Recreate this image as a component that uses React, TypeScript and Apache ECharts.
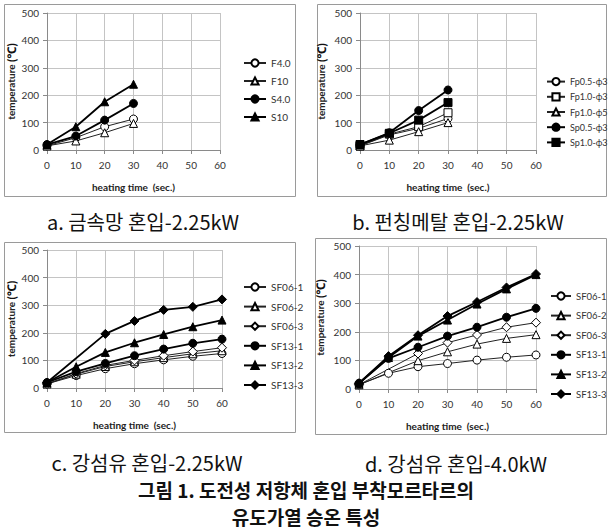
import React, { useEffect, useRef } from "react";
import * as echarts from "echarts";

const TIME_SHORT = [0, 10, 20, 30];
const TIME_LONG = [0, 10, 20, 30, 40, 50, 60];
const X_TICKS = [0, 10, 20, 30, 40, 50, 60];
const Y_TICKS = [0, 100, 200, 300, 400, 500];

// a. 금속망 혼입-2.25kW
const A_NAMES = ["F4.0", "F10", "S4.0", "S10"];
const A_F40 = [15, 45, 85, 113];
const A_F10 = [15, 33, 63, 97];
const A_S40 = [20, 51, 109, 170];
const A_S10 = [20, 85, 176, 240];

// b. 펀칭메탈 혼입-2.25kW
const B_NAMES = ["Fp0.5-ϕ3", "Fp1.0-ϕ3", "Fp1.0-ϕ5", "Sp0.5-ϕ3", "Sp1.0-ϕ3"];
const B_FP05_3 = [15, 55, 79, 115];
const B_FP10_3 = [15, 58, 85, 136];
const B_FP10_5 = [15, 36, 67, 100];
const B_SP05_3 = [20, 63, 144, 219];
const B_SP10_3 = [20, 61, 109, 173];

// c. 강섬유 혼입-2.25kW
const C_NAMES = ["SF06-1", "SF06-2", "SF06-3", "SF13-1", "SF13-2", "SF13-3"];
const C_SF06_1 = [15, 45, 70, 88, 102, 115, 125];
const C_SF06_2 = [15, 50, 78, 95, 110, 124, 135];
const C_SF06_3 = [15, 52, 82, 100, 117, 132, 146];
const C_SF13_1 = [20, 59, 89, 117, 141, 162, 177];
const C_SF13_2 = [20, 77, 129, 164, 194, 222, 246];
const C_SF13_3 = [20, null, 196, 243, 283, 294, 321];

// d. 강섬유 혼입-4.0kW
const D_NAMES = C_NAMES;
const D_SF06_1 = [15, 55, 78, 89, 101, 111, 119];
const D_SF06_2 = [15, null, 99, 130, 157, 177, 190];
const D_SF06_3 = [15, null, 124, 162, 189, 216, 232];
const D_SF13_1 = [20, 107, 146, 185, 216, 251, 282];
const D_SF13_2 = [20, 110, 185, 241, 297, 350, 400];
const D_SF13_3 = [20, 115, 188, 255, 304, 355, 402];

const CAPTIONS = [
  "a. 금속망 혼입-2.25kW",
  "b. 펀칭메탈 혼입-2.25kW",
  "c. 강섬유 혼입-2.25kW",
  "d. 강섬유 혼입-4.0kW",
];
const TITLE_LINES = ["그림 1. 도전성 저항체 혼입 부착모르타르의", "유도가열 승온 특성"];
const X_NAME = "heating time  (sec.)";
const Y_NAME = "temperature {u|(℃)}";

const LATIN = "Lato, 'Open Sans', 'Noto Sans', sans-serif";
const KR = "'Noto Sans CJK KR', 'Noto Sans', sans-serif";

type Sty = { symbol: string; filled: boolean; size: number };
const OPEN_CIRCLE: Sty = { symbol: "circle", filled: false, size: 8 };
const OPEN_TRI: Sty = { symbol: "triangle", filled: false, size: 8 };
const OPEN_RECT: Sty = { symbol: "rect", filled: false, size: 8 };
const OPEN_DIAM: Sty = { symbol: "diamond", filled: false, size: 9 };
const FULL_CIRCLE: Sty = { symbol: "circle", filled: true, size: 8 };
const FULL_TRI: Sty = { symbol: "triangle", filled: true, size: 8 };
const FULL_RECT: Sty = { symbol: "rect", filled: true, size: 8 };
const FULL_DIAM: Sty = { symbol: "diamond", filled: true, size: 9 };

function pairs(xs: number[], ys: (number | null)[]) {
  const out: number[][] = [];
  ys.forEach((y, i) => {
    if (y !== null) out.push([xs[i], y]);
  });
  return out;
}

function mkSeries(name: string, xs: number[], ys: (number | null)[], s: Sty, idx: number) {
  return {
    type: "line",
    name,
    xAxisIndex: idx,
    yAxisIndex: idx,
    data: pairs(xs, ys),
    symbol: s.symbol,
    symbolSize: s.size,
    showAllSymbol: true,
    connectNulls: true,
    lineStyle: { color: s.filled ? "#000" : "#222", width: s.filled ? 1.8 : 1 },
    itemStyle: {
      color: s.filled ? "#000" : "#fff",
      borderColor: "#000",
      borderWidth: 1,
    },
    emphasis: { disabled: true },
  };
}

const GRIDS = [
  { left: 47, top: 13, width: 173, height: 137 },
  { left: 360, top: 13, width: 176, height: 137 },
  { left: 47, top: 250, width: 175, height: 138 },
  { left: 359, top: 246, width: 177, height: 143 },
];

function xAxis(i: number) {
  return {
    type: "value",
    gridIndex: i,
    min: X_TICKS[0],
    max: X_TICKS[X_TICKS.length - 1],
    interval: 10,
    axisLine: { show: true, lineStyle: { color: "#8a8a8a" } },
    axisTick: { show: true, length: 4, lineStyle: { color: "#8a8a8a" } },
    axisLabel: { fontSize: 10, color: "#333", margin: 10, fontFamily: LATIN },
    splitLine: { show: true, lineStyle: { color: "#c4c4c4" } },
    name: X_NAME,
    nameLocation: "middle",
    nameGap: 32,
    nameTextStyle: { fontWeight: "bold", fontSize: 10, color: "#222", fontFamily: LATIN },
  };
}

function yAxis(i: number, gap: number) {
  return {
    type: "value",
    gridIndex: i,
    min: Y_TICKS[0],
    max: Y_TICKS[Y_TICKS.length - 1],
    interval: 100,
    axisLine: { show: true, lineStyle: { color: "#8a8a8a" } },
    axisTick: { show: true, length: 4, lineStyle: { color: "#8a8a8a" } },
    axisLabel: { fontSize: 10, color: "#333", margin: 8, fontFamily: LATIN },
    splitLine: { show: true, lineStyle: { color: "#c4c4c4" } },
    name: Y_NAME,
    nameLocation: "middle",
    nameGap: gap,
    nameRotate: 90,
    nameTextStyle: {
      fontWeight: "bold",
      fontSize: 10,
      color: "#222",
      fontFamily: LATIN,
      rich: { u: { fontSize: 12, fontWeight: "bold", color: "#111", fontFamily: LATIN } },
    },
  };
}

function legend(names: string[], left: number, top: number, gap: number, size: number, iw: number) {
  return {
    orient: "vertical",
    left,
    top,
    padding: 0,
    itemWidth: iw,
    itemHeight: 9,
    itemGap: gap,
    selectedMode: false,
    data: names,
    textStyle: { fontSize: size, color: "#333", fontFamily: LATIN },
  };
}

function frame(x: number, y: number, w: number, h: number) {
  return {
    type: "rect",
    shape: { x, y, width: w, height: h },
    style: { fill: "none", stroke: "#9a9a9a", lineWidth: 1 },
    silent: true,
  };
}

function caption(text: string, x: number, y: number, size: number, bold: boolean) {
  return {
    type: "text",
    x,
    y,
    style: {
      text,
      fontSize: size,
      fontWeight: bold ? "bold" : "normal",
      fontFamily: KR,
      fill: "#111",
      align: "center",
      verticalAlign: "middle",
    },
    silent: true,
  };
}

export default function App() {
  const ref = useRef<HTMLDivElement>(null);
  useEffect(() => {
    document.body.style.margin = "0";
    if (!ref.current) return;
    const chart = echarts.init(ref.current, undefined, { renderer: "svg" });
    const series = [
      mkSeries(A_NAMES[0], TIME_SHORT, A_F40, OPEN_CIRCLE, 0),
      mkSeries(A_NAMES[1], TIME_SHORT, A_F10, OPEN_TRI, 0),
      mkSeries(A_NAMES[2], TIME_SHORT, A_S40, FULL_CIRCLE, 0),
      mkSeries(A_NAMES[3], TIME_SHORT, A_S10, FULL_TRI, 0),
      mkSeries(B_NAMES[0], TIME_SHORT, B_FP05_3, OPEN_CIRCLE, 1),
      mkSeries(B_NAMES[1], TIME_SHORT, B_FP10_3, OPEN_RECT, 1),
      mkSeries(B_NAMES[2], TIME_SHORT, B_FP10_5, OPEN_TRI, 1),
      mkSeries(B_NAMES[3], TIME_SHORT, B_SP05_3, FULL_CIRCLE, 1),
      mkSeries(B_NAMES[4], TIME_SHORT, B_SP10_3, FULL_RECT, 1),
      mkSeries(C_NAMES[0], TIME_LONG, C_SF06_1, OPEN_CIRCLE, 2),
      mkSeries(C_NAMES[1], TIME_LONG, C_SF06_2, OPEN_TRI, 2),
      mkSeries(C_NAMES[2], TIME_LONG, C_SF06_3, OPEN_DIAM, 2),
      mkSeries(C_NAMES[3], TIME_LONG, C_SF13_1, FULL_CIRCLE, 2),
      mkSeries(C_NAMES[4], TIME_LONG, C_SF13_2, FULL_TRI, 2),
      mkSeries(C_NAMES[5], TIME_LONG, C_SF13_3, FULL_DIAM, 2),
      mkSeries(D_NAMES[0], TIME_LONG, D_SF06_1, OPEN_CIRCLE, 3),
      mkSeries(D_NAMES[1], TIME_LONG, D_SF06_2, OPEN_TRI, 3),
      mkSeries(D_NAMES[2], TIME_LONG, D_SF06_3, OPEN_DIAM, 3),
      mkSeries(D_NAMES[3], TIME_LONG, D_SF13_1, FULL_CIRCLE, 3),
      mkSeries(D_NAMES[4], TIME_LONG, D_SF13_2, FULL_TRI, 3),
      mkSeries(D_NAMES[5], TIME_LONG, D_SF13_3, FULL_DIAM, 3),
    ];
    chart.setOption({
      animation: false,
      backgroundColor: "#fff",
      grid: GRIDS,
      xAxis: [xAxis(0), xAxis(1), xAxis(2), xAxis(3)],
      yAxis: [yAxis(0, 30), yAxis(1, 33), yAxis(2, 30), yAxis(3, 33)],
      legend: [
        legend(A_NAMES, 243, 58, 8, 10, 22),
        legend(B_NAMES, 546, 77, 6, 9, 18),
        legend(C_NAMES, 243, 282, 9.6, 10, 22),
        legend(D_NAMES, 550, 291, 9.6, 9.5, 20),
      ],
      series,
      graphic: [
        frame(4.5, 4.5, 291, 192),
        frame(317.5, 4.5, 289, 192),
        frame(4.5, 242.5, 291, 190),
        frame(315.5, 238.5, 291, 196),
        caption(CAPTIONS[0], 143, 221, 20, false),
        caption(CAPTIONS[1], 458, 221, 20, false),
        caption(CAPTIONS[2], 147, 462, 20, false),
        caption(CAPTIONS[3], 456, 463, 20, false),
        caption(TITLE_LINES[0], 306, 489, 19, true),
        caption(TITLE_LINES[1], 306, 516, 19, true),
      ],
    });
    return () => chart.dispose();
  }, []);
  return <div ref={ref} style={{ width: 608, height: 532 }} />;
}
